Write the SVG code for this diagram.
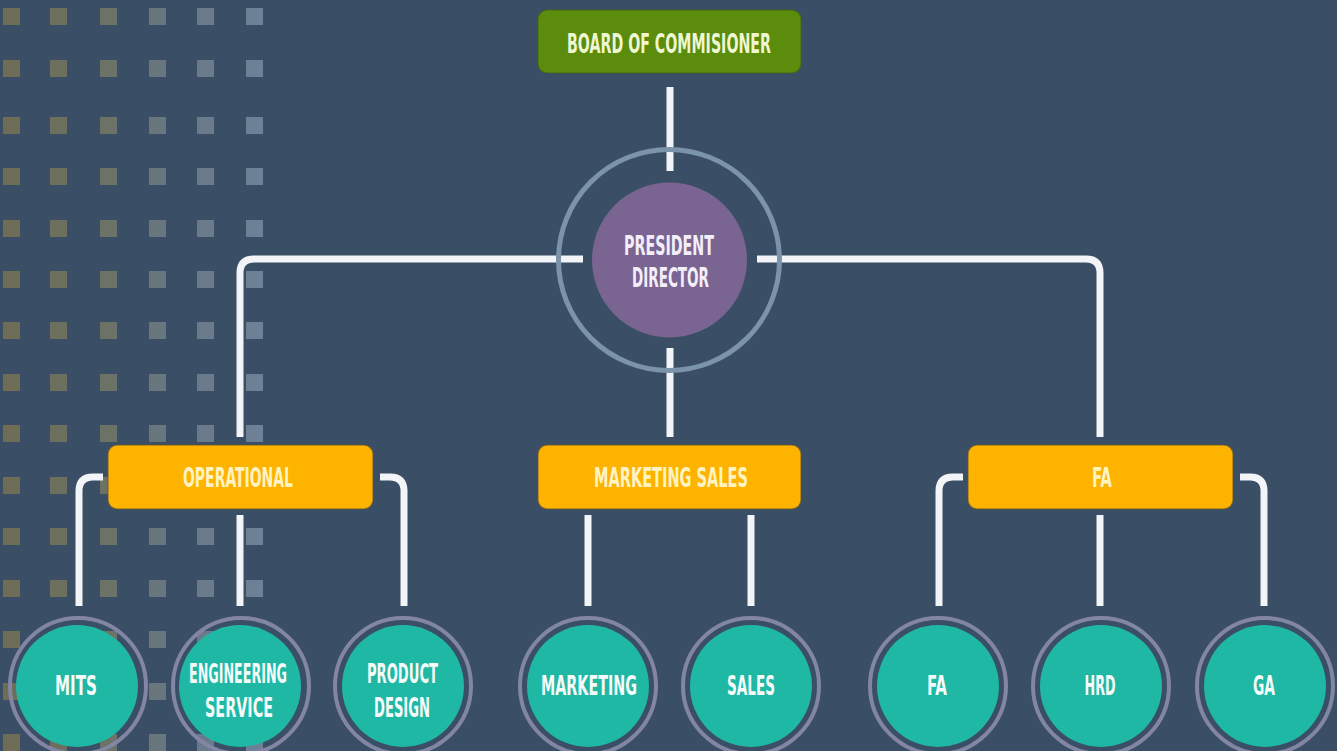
<svg xmlns="http://www.w3.org/2000/svg" width="1337" height="751" viewBox="0 0 1337 751">
  <defs>
    <linearGradient id="sqg" gradientUnits="userSpaceOnUse" x1="0" y1="0" x2="265" y2="0">
      <stop offset="0" stop-color="#6f6c55"/>
      <stop offset="0.4" stop-color="#6c7265"/>
      <stop offset="0.65" stop-color="#687785"/>
      <stop offset="1" stop-color="#6e8197"/>
    </linearGradient>
  </defs>
  <style>
    .t { font-family: "DejaVu Sans Condensed", "DejaVu Sans", sans-serif; font-weight: bold; font-size: 26px; text-anchor: middle; }
    .sq { fill: url(#sqg); }
    .conn { fill: none; stroke: #f3f4f7; stroke-width: 7; stroke-linecap: butt; stroke-linejoin: round; }
    .box { fill: #fdb300; stroke: #5e5330; stroke-opacity: 0.55; stroke-width: 1.5; }
    .boxt { fill: #fff3c4; }
    .ring { fill: none; stroke: #8385a5; stroke-width: 4; }
    .fill { fill: #1fb8a4; }
    .ct { fill: #f6fbf9; }
  </style>
  <rect width="1337" height="751" fill="#3a4e65"/>

  <g id="squares" class="sq">
    <g><rect x="3" y="8" width="17" height="17"/><rect x="50" y="8" width="17" height="17"/><rect x="100" y="8" width="17" height="17"/><rect x="149" y="8" width="17" height="17"/><rect x="197" y="8" width="17" height="17"/><rect x="246" y="8" width="17" height="17"/></g>
    <g><rect x="3" y="60" width="17" height="17"/><rect x="50" y="60" width="17" height="17"/><rect x="100" y="60" width="17" height="17"/><rect x="149" y="60" width="17" height="17"/><rect x="197" y="60" width="17" height="17"/><rect x="246" y="60" width="17" height="17"/></g>
    <g><rect x="3" y="117" width="17" height="17"/><rect x="50" y="117" width="17" height="17"/><rect x="100" y="117" width="17" height="17"/><rect x="149" y="117" width="17" height="17"/><rect x="197" y="117" width="17" height="17"/><rect x="246" y="117" width="17" height="17"/></g>
    <g><rect x="3" y="168" width="17" height="17"/><rect x="50" y="168" width="17" height="17"/><rect x="100" y="168" width="17" height="17"/><rect x="149" y="168" width="17" height="17"/><rect x="197" y="168" width="17" height="17"/><rect x="246" y="168" width="17" height="17"/></g>
    <g><rect x="3" y="220" width="17" height="17"/><rect x="50" y="220" width="17" height="17"/><rect x="100" y="220" width="17" height="17"/><rect x="149" y="220" width="17" height="17"/><rect x="197" y="220" width="17" height="17"/><rect x="246" y="220" width="17" height="17"/></g>
    <g><rect x="3" y="271" width="17" height="17"/><rect x="50" y="271" width="17" height="17"/><rect x="100" y="271" width="17" height="17"/><rect x="149" y="271" width="17" height="17"/><rect x="197" y="271" width="17" height="17"/><rect x="246" y="271" width="17" height="17"/></g>
    <g><rect x="3" y="322" width="17" height="17"/><rect x="50" y="322" width="17" height="17"/><rect x="100" y="322" width="17" height="17"/><rect x="149" y="322" width="17" height="17"/><rect x="197" y="322" width="17" height="17"/><rect x="246" y="322" width="17" height="17"/></g>
    <g><rect x="3" y="374" width="17" height="17"/><rect x="50" y="374" width="17" height="17"/><rect x="100" y="374" width="17" height="17"/><rect x="149" y="374" width="17" height="17"/><rect x="197" y="374" width="17" height="17"/><rect x="246" y="374" width="17" height="17"/></g>
    <g><rect x="3" y="425" width="17" height="17"/><rect x="50" y="425" width="17" height="17"/><rect x="100" y="425" width="17" height="17"/><rect x="149" y="425" width="17" height="17"/><rect x="197" y="425" width="17" height="17"/><rect x="246" y="425" width="17" height="17"/></g>
    <g><rect x="3" y="477" width="17" height="17"/><rect x="50" y="477" width="17" height="17"/><rect x="100" y="477" width="17" height="17"/><rect x="149" y="477" width="17" height="17"/><rect x="197" y="477" width="17" height="17"/><rect x="246" y="477" width="17" height="17"/></g>
    <g><rect x="3" y="528" width="17" height="17"/><rect x="50" y="528" width="17" height="17"/><rect x="100" y="528" width="17" height="17"/><rect x="149" y="528" width="17" height="17"/><rect x="197" y="528" width="17" height="17"/><rect x="246" y="528" width="17" height="17"/></g>
    <g><rect x="3" y="580" width="17" height="17"/><rect x="50" y="580" width="17" height="17"/><rect x="100" y="580" width="17" height="17"/><rect x="149" y="580" width="17" height="17"/><rect x="197" y="580" width="17" height="17"/><rect x="246" y="580" width="17" height="17"/></g>
    <g><rect x="3" y="631" width="17" height="17"/><rect x="50" y="631" width="17" height="17"/><rect x="100" y="631" width="17" height="17"/><rect x="149" y="631" width="17" height="17"/><rect x="197" y="631" width="17" height="17"/><rect x="246" y="631" width="17" height="17"/></g>
    <g><rect x="3" y="683" width="17" height="17"/><rect x="50" y="683" width="17" height="17"/><rect x="100" y="683" width="17" height="17"/><rect x="149" y="683" width="17" height="17"/><rect x="197" y="683" width="17" height="17"/><rect x="246" y="683" width="17" height="17"/></g>
    <g><rect x="3" y="734" width="17" height="17"/><rect x="50" y="734" width="17" height="17"/><rect x="100" y="734" width="17" height="17"/><rect x="149" y="734" width="17" height="17"/><rect x="197" y="734" width="17" height="17"/><rect x="246" y="734" width="17" height="17"/></g>
  </g>

  <g id="connectors" class="conn">
    <path d="M670 87 V171"/>
    <path d="M583 259 H254 Q240 259 240 273 V437"/>
    <path d="M757 259 H1086 Q1100 259 1100 273 V437"/>
    <path d="M670 348 V437"/>
    <path d="M103 477 H93 Q79 477 79 491 V606"/>
    <path d="M240 515 V606"/>
    <path d="M380 477 H390 Q404 477 404 491 V606"/>
    <path d="M588 515 V606"/>
    <path d="M751 515 V606"/>
    <path d="M963 477 H953 Q939 477 939 491 V606"/>
    <path d="M1100 515 V606"/>
    <path d="M1240 477 H1250 Q1264 477 1264 491 V606"/>
  </g>

  <g id="board">
    <rect x="538" y="10" width="263" height="63" rx="9" fill="#5b8c0b" stroke="#3f5f18" stroke-opacity="0.5" stroke-width="1.5"/>
    <text class="t" x="669" y="53" fill="#eef6d2" textLength="204" lengthAdjust="spacingAndGlyphs">BOARD OF COMMISIONER</text>
  </g>

  <g id="president">
    <circle cx="669" cy="260" r="110.5" fill="none" stroke="#7b93ab" stroke-width="5"/>
    <circle cx="669.5" cy="260" r="77.5" fill="#7a6592"/>
    <text class="t" x="669" y="255" fill="#f4eefa" textLength="90" lengthAdjust="spacingAndGlyphs">PRESIDENT</text>
    <text class="t" x="670.5" y="287" fill="#f4eefa" textLength="77" lengthAdjust="spacingAndGlyphs">DIRECTOR</text>
  </g>

  <g id="operational">
    <rect class="box" x="108" y="445" width="265" height="64" rx="9"/>
    <text class="t boxt" x="238" y="487" textLength="110" lengthAdjust="spacingAndGlyphs">OPERATIONAL</text>
  </g>
  <g id="marketing-sales">
    <rect class="box" x="538" y="445" width="263" height="64" rx="9"/>
    <text class="t boxt" x="671" y="487" textLength="154" lengthAdjust="spacingAndGlyphs">MARKETING SALES</text>
  </g>
  <g id="fa-dept">
    <rect class="box" x="968" y="445" width="265" height="64" rx="9"/>
    <text class="t boxt" x="1102" y="487" textLength="20" lengthAdjust="spacingAndGlyphs">FA</text>
  </g>

  <g id="mits">
    <circle class="ring" cx="78" cy="686" r="68"/>
    <circle class="fill" cx="77" cy="686" r="61"/>
    <text class="t ct" x="76" y="695" textLength="42" lengthAdjust="spacingAndGlyphs">MITS</text>
  </g>
  <g id="engineering-service">
    <circle class="ring" cx="241" cy="686" r="68"/>
    <circle class="fill" cx="240" cy="686" r="61"/>
    <text class="t ct" x="238" y="683" textLength="98" lengthAdjust="spacingAndGlyphs">ENGINEERING</text>
    <text class="t ct" x="239" y="717" textLength="68" lengthAdjust="spacingAndGlyphs">SERVICE</text>
  </g>
  <g id="product-design">
    <circle class="ring" cx="403" cy="686" r="68"/>
    <circle class="fill" cx="403" cy="686" r="61"/>
    <text class="t ct" x="402.5" y="683" textLength="71" lengthAdjust="spacingAndGlyphs">PRODUCT</text>
    <text class="t ct" x="402" y="717" textLength="56" lengthAdjust="spacingAndGlyphs">DESIGN</text>
  </g>
  <g id="marketing">
    <circle class="ring" cx="588" cy="686" r="68"/>
    <circle class="fill" cx="588" cy="686" r="61"/>
    <text class="t ct" x="589" y="695" textLength="96" lengthAdjust="spacingAndGlyphs">MARKETING</text>
  </g>
  <g id="sales">
    <circle class="ring" cx="751" cy="686" r="68"/>
    <circle class="fill" cx="751" cy="686" r="61"/>
    <text class="t ct" x="751" y="695" textLength="48" lengthAdjust="spacingAndGlyphs">SALES</text>
  </g>
  <g id="fa">
    <circle class="ring" cx="938" cy="686" r="68"/>
    <circle class="fill" cx="938" cy="686" r="61"/>
    <text class="t ct" x="937" y="695" textLength="20" lengthAdjust="spacingAndGlyphs">FA</text>
  </g>
  <g id="hrd">
    <circle class="ring" cx="1101" cy="686" r="68"/>
    <circle class="fill" cx="1101" cy="686" r="61"/>
    <text class="t ct" x="1100" y="695" textLength="31" lengthAdjust="spacingAndGlyphs">HRD</text>
  </g>
  <g id="ga">
    <circle class="ring" cx="1265" cy="686" r="68"/>
    <circle class="fill" cx="1265" cy="686" r="61"/>
    <text class="t ct" x="1264" y="695" textLength="22" lengthAdjust="spacingAndGlyphs">GA</text>
  </g>
</svg>
